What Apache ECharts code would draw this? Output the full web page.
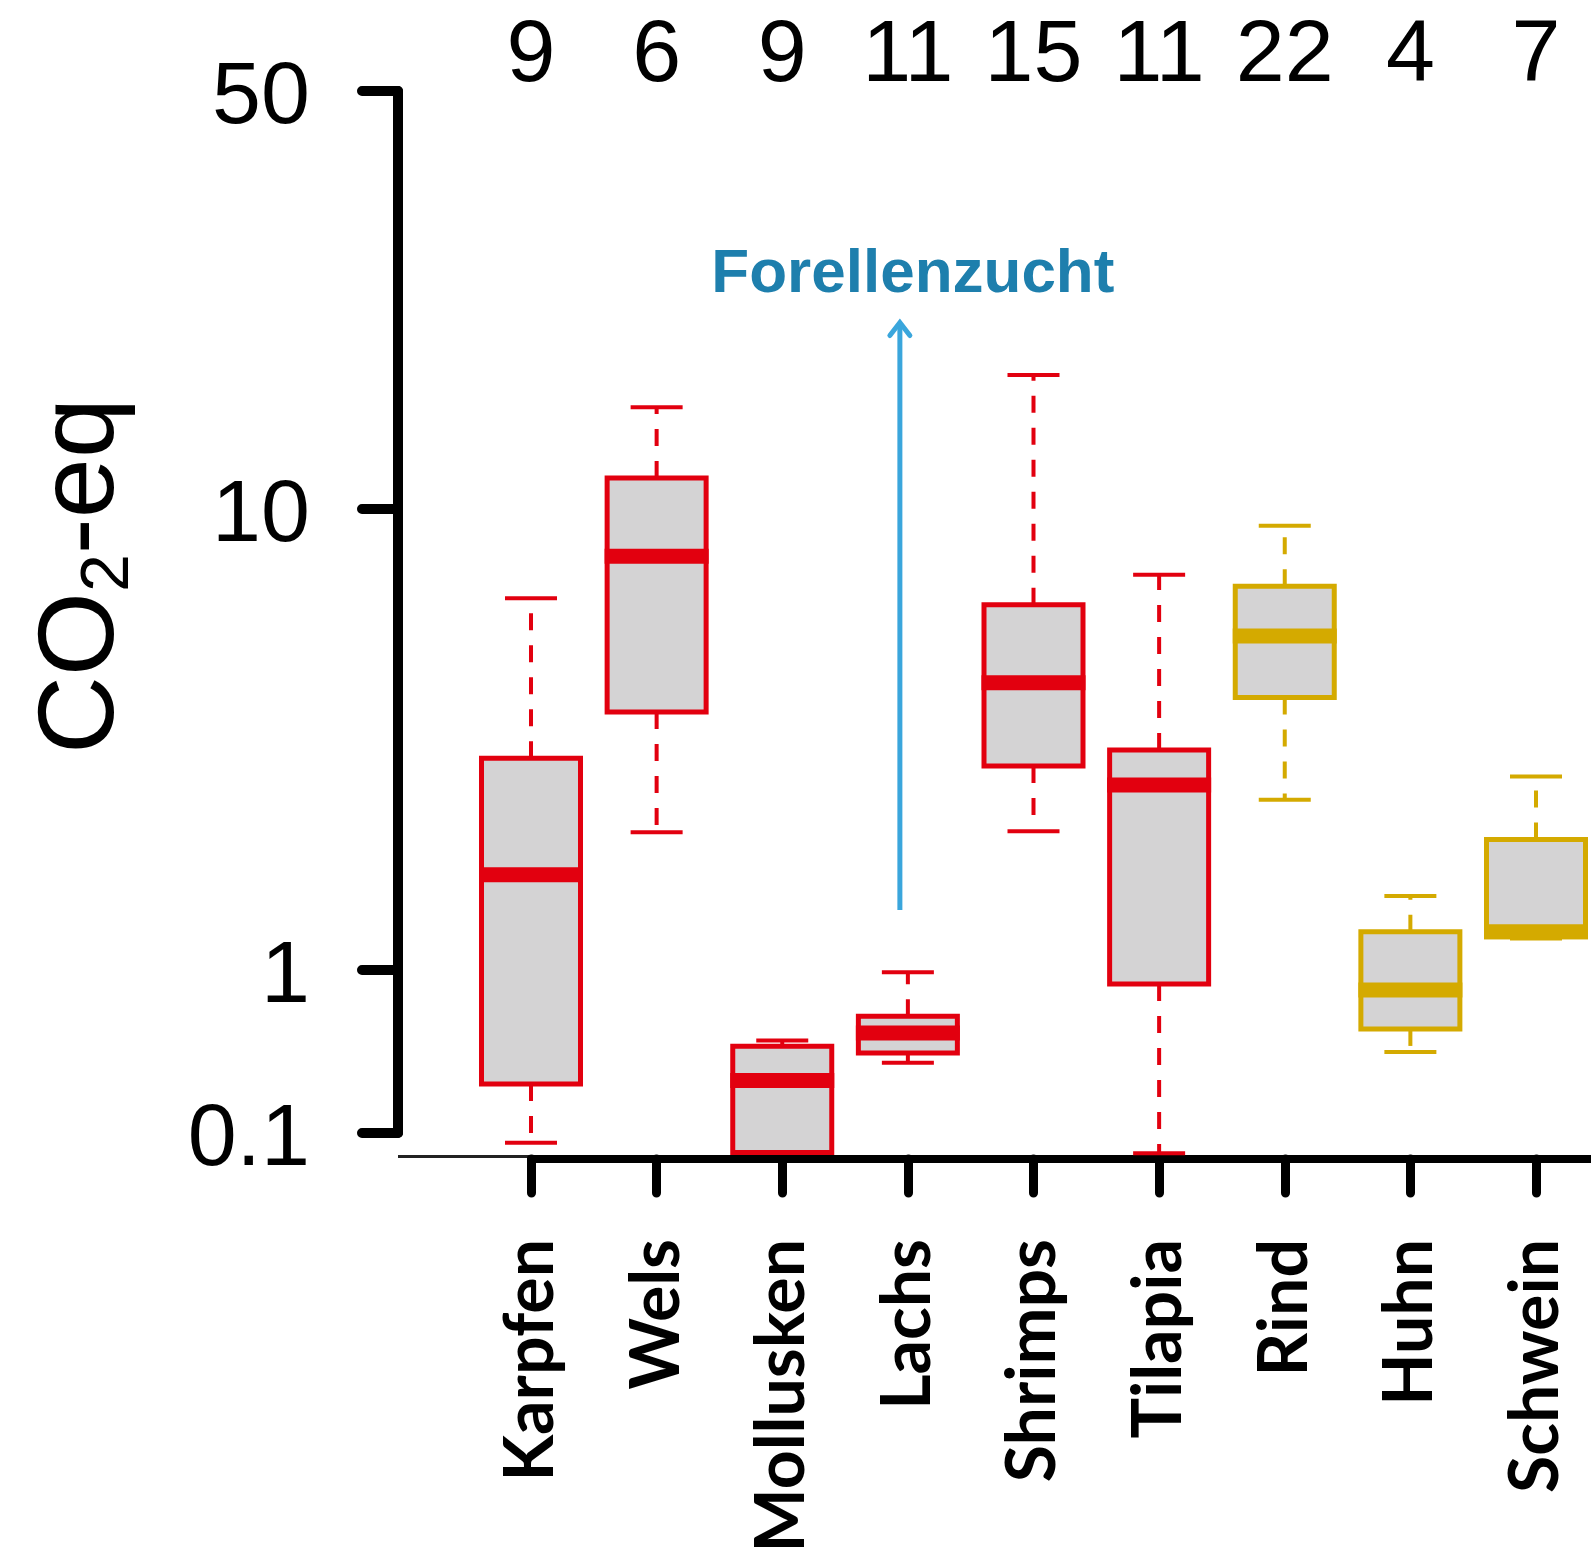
<!DOCTYPE html>
<html>
<head>
<meta charset="utf-8">
<title>CO2-eq</title>
<script src="https://cdn.jsdelivr.net/npm/echarts@6/dist/echarts.min.js"></script>
<style>
html, body { margin: 0; padding: 0; background: #fff; }
#chart { width: 1591px; height: 1565px; }
</style>
</head>
<body>
<div id="chart"></div>
<script>
// Kategorien, Anzahl Studien (oben) und Gruppen (Aquakultur / Landtiere)
const categories = ["Karpfen", "Wels", "Mollusken", "Lachs", "Shrimps", "Tilapia", "Rind", "Huhn", "Schwein"]
const counts = [9, 6, 9, 11, 15, 11, 22, 4, 7]
const groups = ["aqua", "aqua", "aqua", "aqua", "aqua", "aqua", "land", "land", "land"]

// Boxplot-Werte (CO2-eq)
const lowValues = [0.087, 1.99, 0.076, 0.27, 2.0, 0.075, 2.34, 0.314, 1.17]
const q1Values = [0.2, 3.63, 0.076, 0.31, 2.77, 0.82, 3.9, 0.435, 1.18]
const medianValues = [1.61, 7.9, 0.21, 0.41, 4.2, 2.52, 5.3, 0.754, 1.21]
const q3Values = [2.88, 11.27, 0.34, 0.52, 6.2, 3.0, 6.8, 1.21, 1.92]
const highValues = [6.4, 14.8, 0.37, 0.97, 16.75, 7.2, 9.2, 1.447, 2.63]

// Achsenbeschriftung und Pfeil "Forellenzucht"
const yTickValues = [0.1, 1, 10, 50]
const arrowLabel = "Forellenzucht"
const arrowCategory = 3
const arrowRange = [1.35, 20.5]

// gebrochene log-Achse der Vorlage: Position jedes Ticks
const yTickPos = [0, 163, 624, 1042]

const GRID_LEFT = 531
const GRID_TOP = 91
const X_OFFSET = 26
const Y_OFFSET = 133
const X_AXIS_Y = GRID_TOP + yTickPos[3] + X_OFFSET

const colors = { aqua: "#e2000f", land: "#d4aa00" }
const BOX_W = 99
const CAP_W = 52

function toAxis(v) {
  const lv = Math.log10(v)
  const n = yTickValues.length
  for (let k = 0; k < n - 1; k++) {
    const l0 = Math.log10(yTickValues[k])
    const l1 = Math.log10(yTickValues[k + 1])
    if (lv <= l1 || k === n - 2) {
      return yTickPos[k] + ((lv - l0) / (l1 - l0)) * (yTickPos[k + 1] - yTickPos[k])
    }
  }
}

const boxData = categories.map((c, i) => [
  i,
  toAxis(lowValues[i]),
  toAxis(q1Values[i]),
  toAxis(medianValues[i]),
  toAxis(q3Values[i]),
  toAxis(highValues[i])
])

function renderBox(params, api) {
  const i = api.value(0)
  const color = colors[groups[i]]
  const xc = api.coord([i, 0])[0]
  const yLo = api.coord([i, api.value(1)])[1]
  const yQ1 = api.coord([i, api.value(2)])[1]
  const yMed = api.coord([i, api.value(3)])[1]
  const yQ3 = api.coord([i, api.value(4)])[1]
  const yHi = api.coord([i, api.value(5)])[1]
  const half = BOX_W / 2
  const capHalf = CAP_W / 2
  const dashed = { stroke: color, lineWidth: 4, lineDash: [17, 15] }
  const solid = { stroke: color, lineWidth: 4 }
  return {
    type: "group",
    children: [
      { type: "line", shape: { x1: xc, y1: yQ3, x2: xc, y2: yHi }, style: dashed },
      { type: "line", shape: { x1: xc, y1: yQ1, x2: xc, y2: yLo }, style: dashed },
      { type: "line", shape: { x1: xc - capHalf, y1: yHi, x2: xc + capHalf, y2: yHi }, style: solid },
      { type: "line", shape: { x1: xc - capHalf, y1: yLo, x2: xc + capHalf, y2: yLo }, style: solid },
      {
        type: "rect",
        shape: { x: xc - half, y: yQ3, width: BOX_W, height: yQ1 - yQ3 },
        style: { fill: "#d4d3d4", stroke: color, lineWidth: 5 }
      },
      {
        type: "line",
        shape: { x1: xc - half - 2.5, y1: yMed, x2: xc + half + 2.5, y2: yMed },
        style: { stroke: color, lineWidth: 15 }
      }
    ]
  }
}

// Pfeil mit Beschriftung, etwas links der Lachs-Box
function renderArrow(params, api) {
  const base = api.coord([api.value(0), api.value(1)])
  const tip = api.coord([api.value(0), api.value(2)])
  const x = base[0] - 8
  const stroke = "#3aa6dc"
  return {
    type: "group",
    children: [
      { type: "line", shape: { x1: x, y1: base[1], x2: x, y2: tip[1] + 2 }, style: { stroke: stroke, lineWidth: 5 } },
      {
        type: "polyline",
        shape: { points: [[x - 10, tip[1] + 13], [x, tip[1]], [x + 10, tip[1] + 13]] },
        style: { stroke: stroke, lineWidth: 5, lineCap: "round", fill: null }
      },
      {
        type: "text",
        x: x + 13,
        y: tip[1] - 17,
        style: {
          text: arrowLabel,
          fill: "#1e7fad",
          fontFamily: "Liberation Sans",
          fontWeight: "bold",
          fontSize: 62,
          align: "center",
          verticalAlign: "bottom"
        }
      }
    ]
  }
}

const chart = echarts.init(document.getElementById("chart"))

const option = {
  animation: false,
  backgroundColor: "#fff",
  grid: {
    left: GRID_LEFT,
    top: GRID_TOP,
    right: 55,
    height: yTickPos[3],
    containLabel: false,
    outerBoundsMode: "none"
  },
  xAxis: [
    {
      type: "category",
      data: categories,
      boundaryGap: false,
      offset: X_OFFSET,
      axisLine: { show: true, onZero: false, lineStyle: { color: "#000", width: 8 } },
      axisTick: { show: true, length: 34, lineStyle: { color: "#000", width: 9, cap: "round" } },
      axisLabel: {
        interval: 0,
        rotate: 90,
        margin: 80,
        color: "#000",
        fontFamily: "Lato",
        fontWeight: "bold",
        fontSize: 68
      },
      splitLine: { show: false }
    },
    {
      type: "category",
      position: "top",
      data: counts.map(String),
      boundaryGap: false,
      axisLine: { show: false, onZero: false },
      axisTick: { show: false },
      axisLabel: {
        interval: 0,
        margin: -10,
        color: "#000",
        fontFamily: "Liberation Sans",
        fontSize: 88
      },
      splitLine: { show: false }
    }
  ],
  yAxis: {
    type: "value",
    min: 0,
    max: yTickPos[3],
    offset: Y_OFFSET,
    axisLine: { show: true, lineStyle: { color: "#000", width: 10, cap: "round" } },
    axisTick: {
      show: true,
      length: 36,
      customValues: yTickPos,
      lineStyle: { color: "#000", width: 10, cap: "round" }
    },
    axisLabel: {
      customValues: yTickPos,
      formatter: function (v) {
        const k = yTickPos.findIndex((p) => Math.abs(p - v) < 0.5)
        return k < 0 ? "" : "{v|" + yTickValues[k] + "}"
      },
      margin: 88,
      rich: {
        v: {
          fontSize: 88,
          fontFamily: "Liberation Sans",
          color: "#000",
          padding: [16, 0, 0, 0]
        }
      }
    },
    splitLine: { show: false },
    name: "{a|CO}{s|2}{a|-eq}",
    nameLocation: "middle",
    nameRotate: 90,
    nameGap: 255,
    nameTextStyle: {
      color: "#000",
      padding: [0, 0, 0, 72],
      rich: {
        a: { fontSize: 108, lineHeight: 120, fontFamily: "Liberation Sans", color: "#000" },
        s: { fontSize: 68, lineHeight: 68, verticalAlign: "bottom", fontFamily: "Liberation Sans", color: "#000" }
      }
    }
  },
  series: [
    {
      type: "custom",
      renderItem: renderBox,
      encode: { x: 0, y: [1, 2, 3, 4, 5] },
      data: boxData
    },
    {
      type: "custom",
      renderItem: renderArrow,
      encode: { x: 0, y: [1, 2] },
      silent: true,
      data: [[arrowCategory, toAxis(arrowRange[0]), toAxis(arrowRange[1])]]
    }
  ],
  graphic: [
    {
      type: "line",
      shape: { x1: GRID_LEFT - Y_OFFSET, y1: X_AXIS_Y - 2.5, x2: GRID_LEFT, y2: X_AXIS_Y - 2.5 },
      style: { stroke: "#222", lineWidth: 3 }
    },
    {
      type: "line",
      shape: { x1: 1591 - 55, y1: X_AXIS_Y, x2: 1591, y2: X_AXIS_Y },
      style: { stroke: "#000", lineWidth: 8 }
    }
  ]
}

chart.setOption(option)
</script>
</body>
</html>
